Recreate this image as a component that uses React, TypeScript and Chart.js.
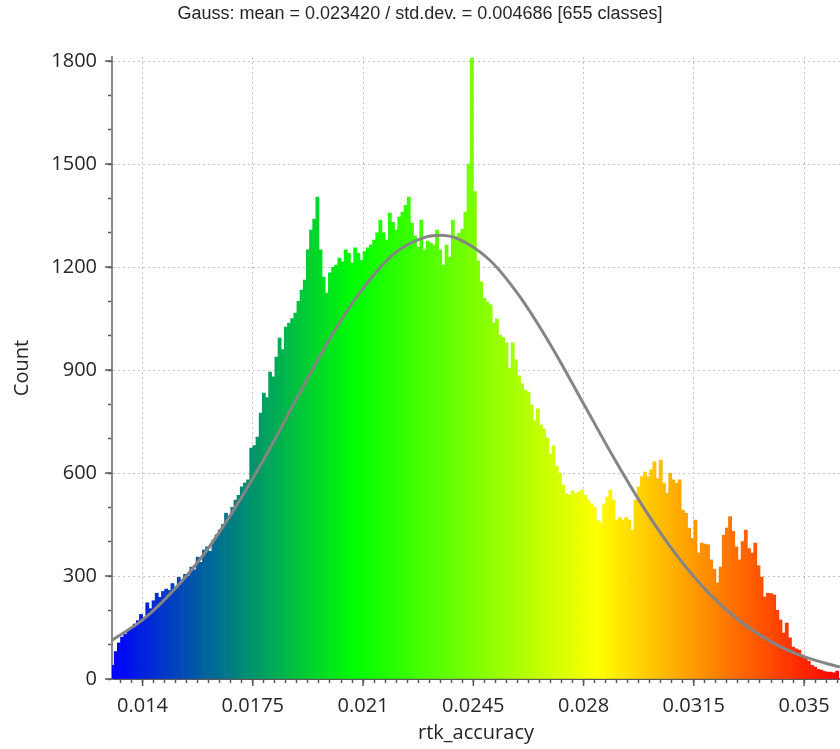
import React, { useEffect, useRef } from 'react';
import { Chart, registerables } from 'chart.js';

Chart.register(...registerables);

// Histogram classes (bin centres start at BIN_START, each BIN_WIDTH wide)
const BIN_START = 0.01305;
const BIN_WIDTH = 0.0001;

// Counts, left to right
const counts = [
  40, 80, 105, 122, 130, 142, 150, 160, 170, 188,
  180, 222, 205, 228, 250, 238, 255, 262, 258, 278,
  268, 296, 288, 305, 300, 326, 318, 355, 340, 376,
  385, 372, 405, 420, 434, 450, 483, 470, 500, 521,
  535, 560, 571, 580, 673, 680, 705, 775, 833, 820,
  894, 880, 938, 993, 960, 1025, 1037, 1050, 1066, 1100,
  1133, 1162, 1250, 1308, 1340, 1404, 1250, 1171, 1124, 1183,
  1200, 1206, 1226, 1215, 1250, 1240, 1212, 1256, 1240, 1220,
  1245, 1256, 1265, 1279, 1300, 1337, 1300, 1279, 1357, 1330,
  1308, 1346, 1360, 1380, 1404, 1328, 1290, 1258, 1337, 1250,
  1276, 1270, 1264, 1308, 1250, 1206, 1264, 1229, 1337, 1290,
  1299, 1311, 1360, 1500, 1809, 1420, 1218, 1157, 1110, 1098,
  1090, 1037, 1049, 1002, 995, 979, 906, 979, 930, 883,
  860, 842, 836, 798, 752, 787, 740, 728, 702, 655,
  679, 620, 600, 565, 540, 536, 548, 540, 545, 550,
  536, 521, 510, 500, 463, 454, 510, 530, 550, 521,
  463, 470, 463, 470, 463, 434, 521, 560, 590, 603,
  589, 610, 633, 584, 638, 570, 541, 599, 580, 570,
  580, 492, 483, 440, 410, 463, 367, 396, 393, 391,
  347, 320, 280, 326, 419, 440, 473, 430, 385, 347,
  400, 434, 380, 367, 396, 330, 297, 239, 250, 249,
  245, 200, 172, 134, 163, 120, 93, 88, 84, 70,
  60, 52, 40, 35, 28, 26, 22, 20, 20, 18,
  23,
];

// Gauss fit curve
const gaussX = [0.01303, 0.014, 0.015, 0.016, 0.017, 0.018, 0.019, 0.02, 0.021, 0.022, 0.023, 0.0235, 0.024, 0.025, 0.026, 0.027, 0.028, 0.029, 0.03, 0.031, 0.032, 0.033, 0.034, 0.035, 0.036, 0.03614];
const gaussY = [113, 172, 260, 370, 508, 665, 835, 1000, 1138, 1240, 1288, 1293, 1283, 1222, 1111, 966, 802, 638, 486, 355, 248, 166, 106, 65, 38, 35];

// Axis ticks
const xTickLabels = ['0.014', '0.0175', '0.021', '0.0245', '0.028', '0.0315', '0.035'];
const yTickLabels = ['0', '300', '600', '900', '1200', '1500', '1800'];

const X_MIN = 0.01303;
const X_MAX = 0.03614;
const Y_MAX = 1812;

const AXIS_COLOR = '#5a5a5a';
const GRID_COLOR = '#c4c4c4';
const TEXT_COLOR = '#262626';
const TICK_FONT = { family: 'Open Sans', size: 20 };

const xMajors = xTickLabels.map(Number);
const yMajors = yTickLabels.map(Number);
const isXMajor = (v: number) => xMajors.some((m) => Math.abs(m - v) < 1e-7);
const isYMajor = (v: number) => yMajors.some((m) => Math.abs(m - v) < 1e-6);

const majorTicksPlugin = {
  id: 'majorTicks',
  afterDraw(chart: any) {
    const { ctx, chartArea, scales } = chart;
    const xs = scales.x;
    const ys = scales.y;
    ctx.save();
    ctx.strokeStyle = AXIS_COLOR;
    ctx.lineWidth = 1.5;
    ctx.beginPath();
    xMajors.forEach((v) => {
      const px = xs.getPixelForValue(v);
      ctx.moveTo(px, chartArea.bottom);
      ctx.lineTo(px, chartArea.bottom + 7);
    });
    yMajors.forEach((v) => {
      const py = ys.getPixelForValue(v);
      ctx.moveTo(chartArea.left, py);
      ctx.lineTo(chartArea.left - 7, py);
    });
    ctx.stroke();
    ctx.restore();
  },
};

export default function App() {
  const ref = useRef<HTMLCanvasElement>(null);

  useEffect(() => {
    document.body.style.margin = '0';
    const canvas = ref.current;
    if (!canvas) return;

    let grad: CanvasGradient | null = null;
    let gradKey = '';
    const barColor = (c: any) => {
      const chart = c.chart;
      const area = chart.chartArea;
      if (!area) return '#00ff00';
      const key = area.left + ':' + area.right;
      if (!grad || key !== gradKey) {
        grad = chart.ctx.createLinearGradient(area.left, 0, area.right, 0);
        grad!.addColorStop(0, '#0000ff');
        grad!.addColorStop(1 / 3, '#00ff00');
        grad!.addColorStop(2 / 3, '#ffff00');
        grad!.addColorStop(1, '#ff0000');
        gradKey = key;
      }
      return grad;
    };

    const barData = counts.map((c, i) => ({ x: BIN_START + i * BIN_WIDTH, y: c }));
    const lineData = gaussX.map((x, i) => ({ x, y: gaussY[i] }));

    const chart = new Chart(canvas, {
      type: 'bar',
      data: {
        datasets: [
          {
            type: 'line',
            data: lineData,
            borderColor: '#858585',
            borderWidth: 3,
            pointRadius: 0,
            fill: false,
            tension: 0.4,
            cubicInterpolationMode: 'monotone',
            order: 0,
          } as any,
          {
            type: 'bar',
            data: barData,
            backgroundColor: barColor,
            borderWidth: 0,
            barPercentage: 1,
            categoryPercentage: 1,
            grouped: false,
            order: 1,
          } as any,
        ],
      },
      options: {
        animation: false,
        responsive: false,
        devicePixelRatio: 1,
        layout: { padding: 0 },
        events: [],
        plugins: {
          legend: { display: false },
          tooltip: { enabled: false },
          title: {
            display: true,
            text: 'Gauss: mean = 0.023420 / std.dev. = 0.004686 [655 classes]',
            color: TEXT_COLOR,
            font: { family: 'Liberation Sans', size: 18, weight: 'normal' },
            padding: { top: 3, bottom: 32.4 },
          },
        },
        scales: {
          x: {
            type: 'linear',
            min: X_MIN,
            max: X_MAX,
            offset: false,
            afterBuildTicks: (s: any) => {
              s.min = X_MIN;
              s.max = X_MAX;
            },
            afterFit: (s: any) => {
              s.height = 70;
              s.paddingLeft = 0;
              s.paddingRight = 0;
            },
            ticks: {
              stepSize: 0.00035,
              maxTicksLimit: 1000,
              autoSkip: false,
              includeBounds: false,
              maxRotation: 0,
              minRotation: 0,
              padding: 11,
              color: TEXT_COLOR,
              font: TICK_FONT,
              callback: (v: any) => {
                const n = Number(v);
                const idx = xMajors.findIndex((m) => Math.abs(m - n) < 1e-7);
                return idx >= 0 ? xTickLabels[idx] : '';
              },
            },
            grid: {
              offset: false,
              color: (c: any) => (c.tick && isXMajor(c.tick.value) ? GRID_COLOR : 'rgba(0,0,0,0)'),
              lineWidth: 1,
              drawTicks: true,
              tickLength: 4,
              tickColor: AXIS_COLOR,
              tickWidth: 1.5,
            },
            border: { display: true, color: AXIS_COLOR, width: 2, dash: [2, 3] },
            title: {
              display: true,
              text: 'rtk_accuracy',
              color: TEXT_COLOR,
              font: { family: 'Open Sans', size: 20 },
              padding: { top: 0, bottom: 4 },
            },
          } as any,
          y: {
            type: 'linear',
            min: 0,
            max: Y_MAX,
            afterBuildTicks: (s: any) => {
              s.min = 0;
              s.max = Y_MAX;
            },
            afterFit: (s: any) => {
              s.width = 112;
            },
            ticks: {
              stepSize: 100,
              maxTicksLimit: 1000,
              autoSkip: false,
              includeBounds: false,
              padding: 11,
              color: TEXT_COLOR,
              font: TICK_FONT,
              callback: (v: any) => {
                const n = Number(v);
                const idx = yMajors.findIndex((m) => Math.abs(m - n) < 1e-6);
                return idx >= 0 ? yTickLabels[idx] : '';
              },
            },
            grid: {
              color: (c: any) => (c.tick && isYMajor(c.tick.value) && c.tick.value > 0 ? GRID_COLOR : 'rgba(0,0,0,0)'),
              lineWidth: 1,
              drawTicks: true,
              tickLength: 4,
              tickColor: AXIS_COLOR,
              tickWidth: 1.5,
            },
            border: { display: true, color: '#8a8a8a', width: 2, dash: [2, 3] },
            title: {
              display: true,
              text: 'Count',
              color: TEXT_COLOR,
              font: { family: 'Open Sans', size: 20 },
              padding: { top: 10, bottom: 0 },
            },
          } as any,
        },
      },
      plugins: [majorTicksPlugin],
    } as any);

    return () => chart.destroy();
  }, []);

  return (
    <div style={{ position: 'absolute', left: 0, top: 0, width: 840, height: 749, background: '#fff' }}>
      <canvas ref={ref} width={840} height={749} style={{ display: 'block', width: 840, height: 749 }} />
    </div>
  );
}
